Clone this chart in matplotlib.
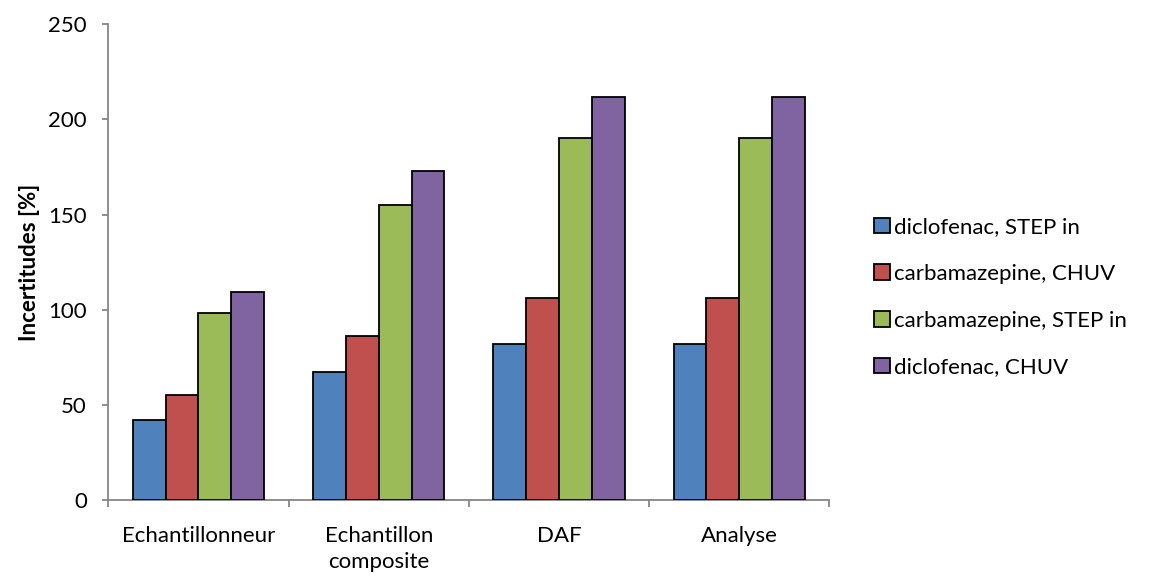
import numpy as np
import matplotlib.pyplot as plt

categories = ["Echantillonneur", "Echantillon\ncomposite", "DAF", "Analyse"]
series_names = ["diclofenac, STEP in", "carbamazepine, CHUV",
                "carbamazepine, STEP in", "diclofenac, CHUV"]
diclo_step = [42, 67, 82, 82]
carba_chuv = [55, 86, 106, 106]
carba_step = [98, 155, 190, 190]
diclo_chuv = [109.5, 173, 212, 212]
colors = ["#4f81bd", "#c0504d", "#9bbb59", "#8064a2"]

plt.rcParams['font.family'] = ['Lato', 'DejaVu Sans']
fs = 16

fig = plt.figure(figsize=(11.52, 5.78), dpi=100)
ax = fig.add_axes([0.094, 0.135, 0.626, 0.823])

x = np.arange(len(categories))
width = 0.182
values = [diclo_step, carba_chuv, carba_step, diclo_chuv]
for i, (vals, name, c) in enumerate(zip(values, series_names, colors)):
    ax.bar(x + (i - 1.5) * width, vals, width, color=c, edgecolor="black",
           linewidth=1.3, label=name, zorder=3)

ax.set_xlim(-0.5, len(categories) - 0.5)
ax.set_ylim(0, 250)
ax.set_yticks(range(0, 251, 50))
ax.set_xticks(x)
ax.set_xticklabels(categories, linespacing=1.35)
ax.set_xticks(np.arange(-0.5, len(categories)), minor=True)
ax.tick_params(axis="x", which="major", length=0, pad=19, labelsize=fs)
ax.tick_params(axis="x", which="minor", length=5, color="#868686", width=1.3)
ax.tick_params(axis="y", length=4.5, color="#868686", width=1.3, labelsize=fs, pad=11)

for s in ["top", "right"]:
    ax.spines[s].set_visible(False)
for s in ["left", "bottom"]:
    ax.spines[s].set_color("#868686")
    ax.spines[s].set_linewidth(1.3)

ax.set_ylabel("Incertitudes [%]", fontsize=fs, fontweight="bold", labelpad=6)

ax.legend(loc="center left", bbox_to_anchor=(1.034, 0.426), frameon=False,
          fontsize=fs, handlelength=0.7, handleheight=0.7, handletextpad=0.2,
          labelspacing=1.2)

fig.savefig("out.png", dpi=100)
